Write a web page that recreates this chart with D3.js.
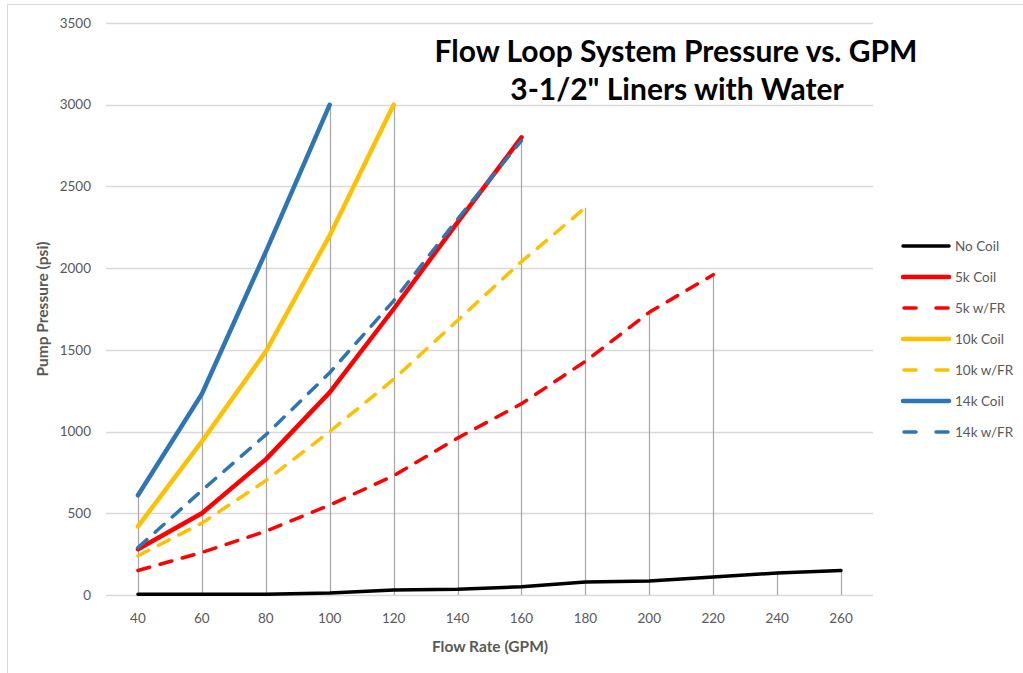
<!DOCTYPE html>
<html>
<head>
<meta charset="utf-8">
<script src="https://cdn.jsdelivr.net/npm/d3@7"></script>
<style>
  body { margin: 0; background: #fff; }
  text { font-family: Lato, "Open Sans", sans-serif; }
</style>
</head>
<body>
<div id="chart"></div>
<script>
// flow rates (GPM) - category axis
var flowRates = [40, 60, 80, 100, 120, 140, 160, 180, 200, 220, 240, 260];
var yTicks = [0, 500, 1000, 1500, 2000, 2500, 3000, 3500];

// pump pressure (psi), null where the series stops
var noCoil   = [5, 5, 5, 12, 30, 35, 50, 80, 85, 110, 135, 150];
var coil5k   = [280, 500, 830, 1240, 1750, 2280, 2800, null, null, null, null, null];
var fr5k     = [150, 260, 390, 550, 730, 960, 1170, 1430, 1730, 1960, null, null];
var coil10k  = [420, 940, 1490, 2200, 3000, null, null, null, null, null, null, null];
var fr10k    = [240, 440, 700, 1000, 1320, 1680, 2040, 2370, null, null, null, null];
var coil14k  = [610, 1230, 2100, 3000, null, null, null, null, null, null, null, null];
var fr14k    = [290, 640, 980, 1360, 1800, 2300, 2780, null, null, null, null, null];

var seriesNames = ["No Coil", "5k Coil", "5k w/FR", "10k Coil", "10k w/FR", "14k Coil", "14k w/FR"];
var seriesValues = [noCoil, coil5k, fr5k, coil10k, fr10k, coil14k, fr14k];
var seriesColors = ["#000000", "#ff0000", "#ff0000", "#ffc000", "#ffc000", "#2e75b6", "#2e75b6"];
var seriesDashed = [false, false, true, false, true, false, true];

var W = 1023, H = 673;
var plotLeft = 106, plotRight = 873, plotTop = 23, plotBottom = 595;

var svg = d3.select("#chart").append("svg")
  .attr("width", W)
  .attr("height", H);

// chart border (cropped at right/bottom)
svg.append("path")
  .attr("d", "M7.5," + H + "V4.5H" + W)
  .attr("fill", "none")
  .attr("stroke", "#d9d9d9")
  .attr("stroke-width", 1);

var x = d3.scaleBand()
  .domain(flowRates)
  .range([plotLeft, plotRight]);

var y = d3.scaleLinear()
  .domain([0, 3500])
  .range([plotBottom, plotTop]);

function cx(d) { return x(d) + x.bandwidth() / 2; }

// horizontal gridlines
svg.append("g")
  .selectAll("line")
  .data(yTicks)
  .enter()
  .append("line")
    .attr("x1", plotLeft)
    .attr("x2", plotRight)
    .attr("y1", function(d) { return Math.round(y(d)) + 0.5; })
    .attr("y2", function(d) { return Math.round(y(d)) + 0.5; })
    .attr("stroke", "#d9d9d9")
    .attr("stroke-width", 1.3);

// y tick labels
svg.append("g")
  .selectAll("text")
  .data(yTicks)
  .enter()
  .append("text")
    .attr("x", 91)
    .attr("y", function(d) { return y(d); })
    .attr("dy", "0.35em")
    .attr("text-anchor", "end")
    .attr("fill", "#595959")
    .attr("font-size", "13.5px")
    .text(function(d) { return d; });

// x tick labels
svg.append("g")
  .selectAll("text")
  .data(flowRates)
  .enter()
  .append("text")
    .attr("x", function(d) { return cx(d); })
    .attr("y", 623)
    .attr("text-anchor", "middle")
    .attr("fill", "#595959")
    .attr("font-size", "13.5px")
    .text(function(d) { return d; });

// drop lines from the highest point at each flow rate
var dropTops = flowRates.map(function(f, i) {
  return d3.max(seriesValues, function(s) { return s[i]; });
});
svg.append("g")
  .selectAll("line")
  .data(flowRates)
  .enter()
  .append("line")
    .attr("x1", function(d) { return Math.round(cx(d)) + 0.5; })
    .attr("x2", function(d) { return Math.round(cx(d)) + 0.5; })
    .attr("y1", plotBottom)
    .attr("y2", function(d, i) { return y(dropTops[i]); })
    .attr("stroke", "#a6a6a6")
    .attr("stroke-width", 1.2);

// series lines
var line = d3.line()
  .defined(function(d) { return d != null; })
  .x(function(d, i) { return cx(flowRates[i]); })
  .y(function(d) { return y(d); });

seriesValues.forEach(function(vals, k) {
  svg.append("path")
    .datum(vals)
    .attr("d", line)
    .attr("fill", "none")
    .attr("stroke", seriesColors[k])
    .attr("stroke-width", k == 0 ? 3.5 : (seriesDashed[k] ? 3.5 : 4.5))
    .attr("stroke-linecap", "round")
    .attr("stroke-linejoin", "round")
    .attr("stroke-dasharray", seriesDashed[k] ? "12,11" : null);
});

// title
svg.append("text")
  .attr("x", 676)
  .attr("y", 62)
  .attr("text-anchor", "middle")
  .attr("font-size", "30px")
  .attr("font-weight", "bold")
  .attr("fill", "#000")
  .text("Flow Loop System Pressure vs. GPM");
svg.append("text")
  .attr("x", 677)
  .attr("y", 100)
  .attr("text-anchor", "middle")
  .attr("font-size", "30px")
  .attr("font-weight", "bold")
  .attr("fill", "#000")
  .text("3-1/2\" Liners with Water");

// axis titles
svg.append("text")
  .attr("x", 490)
  .attr("y", 652)
  .attr("text-anchor", "middle")
  .attr("font-size", "15.5px")
  .attr("font-weight", "bold")
  .attr("fill", "#595959")
  .text("Flow Rate (GPM)");
svg.append("text")
  .attr("transform", "translate(48,309) rotate(-90)")
  .attr("text-anchor", "middle")
  .attr("font-size", "15.5px")
  .attr("font-weight", "bold")
  .attr("fill", "#595959")
  .text("Pump Pressure (psi)");

// legend
var legend = svg.append("g")
  .selectAll("g")
  .data(seriesNames)
  .enter()
  .append("g")
    .attr("transform", function(d, i) { return "translate(0," + (246 + i * 31) + ")"; });

legend.append("line")
  .attr("x1", function(d, i) { return seriesDashed[i] ? 904 : 903; })
  .attr("x2", 949)
  .attr("stroke", function(d, i) { return seriesColors[i]; })
  .attr("stroke-width", function(d, i) { return i == 0 ? 3.5 : (seriesDashed[i] ? 3.5 : 4.5); })
  .attr("stroke-linecap", "round")
  .attr("stroke-dasharray", function(d, i) { return seriesDashed[i] ? "12,20" : null; });

legend.append("text")
  .attr("x", 955)
  .attr("dy", "0.35em")
  .attr("font-size", "13.5px")
  .attr("fill", "#595959")
  .text(function(d) { return d; });
</script>
</body>
</html>
